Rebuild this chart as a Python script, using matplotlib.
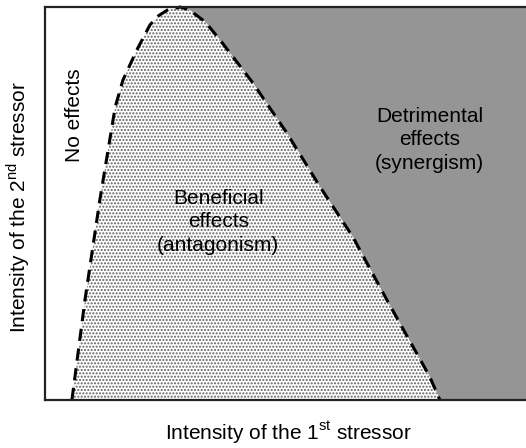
import matplotlib
matplotlib.use("Agg")
import matplotlib.pyplot as plt

# boundary between the effect zones (x = 1st stressor, y = 2nd stressor), 0-100 scale
curve_x = [5.6, 8.3, 11.4, 14.6, 16.2, 19.1, 21.8, 23.5, 25.4, 28.1, 30.1, 33.3, 36.4, 43.2,
           50.3, 57.2, 64.0, 71.1, 80.0, 82.1]
curve_y = [0, 25.4, 50.9, 74.6, 81.4, 89.1, 95.4, 97.7, 99.2, 100, 99.2, 96.2, 91.6, 80.7,
           67.9, 54.2, 41.5, 25.4, 5.9, 0]
peak = 9  # index of the top of the curve

labels = {"none": "No effects",
          "benefit": "Beneficial\neffects\n(antagonism)",
          "harm": "Detrimental\neffects\n(synergism)"}

plt.rcParams['font.family'] = ['Liberation Sans', 'DejaVu Sans']
plt.rcParams['mathtext.fontset'] = 'custom'
plt.rcParams['mathtext.rm'] = 'Liberation Sans'
plt.rcParams['hatch.color'] = '#606060'
plt.rcParams['hatch.linewidth'] = 1.0

fig = plt.figure(figsize=(5.26, 4.48), dpi=100)
ax = fig.add_axes([45 / 526, 48 / 448, 481 / 526, 393 / 448])
ax.set_xlim(0, 100)
ax.set_ylim(0, 100)

# detrimental zone: right of the descending branch
gx = curve_x[peak:] + [110, 110, curve_x[peak]]
gy = curve_y[peak:] + [0, 110, 110]
ax.fill(gx, gy, color='#959595', lw=0, zorder=1)

# beneficial zone: under the curve, dotted
ax.fill(curve_x, curve_y, facecolor='white', edgecolor='#606060', hatch='.....', lw=0, zorder=2)
ax.plot(curve_x, curve_y, color='black', lw=2.2, ls=(0, (4, 2.5)), zorder=3, clip_on=False)

fs = 15
ax.text(6.2, 72.5, labels["none"], rotation=90, ha='center', va='center', fontsize=fs)
ax.text(36.0, 45.3, labels["benefit"], ha='center', va='center', fontsize=fs, linespacing=1.3)
ax.text(80.0, 66.2, labels["harm"], ha='center', va='center', fontsize=fs, linespacing=1.3)

ax.set_xticks([])
ax.set_yticks([])
for s in ['left', 'bottom', 'top']:
    ax.spines[s].set_linewidth(1.6)
    ax.spines[s].set_color('#222222')
    ax.spines[s].set_zorder(4)
ax.spines['right'].set_visible(False)

fig.text(288 / 526, 1 - 433 / 448, r'Intensity of the 1$^{\mathrm{st}}$ stressor',
         ha='center', va='center', fontsize=fs)
fig.text(18 / 526, 1 - 207 / 448, r'Intensity of the 2$^{\mathrm{nd}}$ stressor',
         ha='center', va='center', rotation=90, fontsize=fs)

fig.savefig('out.png', dpi=100)
